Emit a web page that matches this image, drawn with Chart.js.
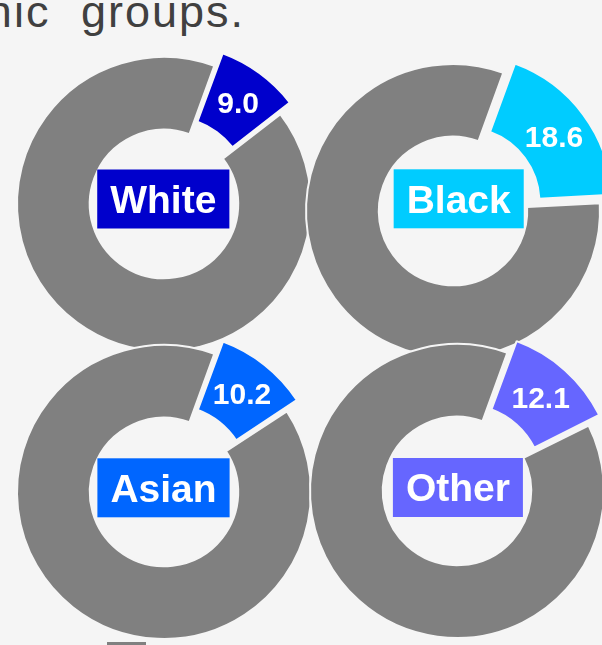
<!DOCTYPE html>
<html>
<head>
<meta charset="utf-8">
<script src="https://cdn.jsdelivr.net/npm/chart.js@4/dist/chart.umd.min.js"></script>
<style>
  html, body { margin: 0; padding: 0; background: #f5f5f5; width: 602px; height: 645px; overflow: hidden; }
  .wrap { position: relative; width: 602px; height: 645px; overflow: hidden; background: #f5f5f5; }
  .title { position: absolute; right: 357px; top: -11px; font-family: "Liberation Sans", Arial, sans-serif;
           font-size: 45px; line-height: 45px; color: #404040; white-space: nowrap; letter-spacing: 2px; word-spacing: 16px; }
  canvas.donut { position: absolute; }
  .marker { position: absolute; left: 107px; top: 642px; width: 39px; height: 10px; background: #808080; }
</style>
</head>
<body>
<div class="wrap" id="wrap">
  <div class="title" id="title"></div>
  <div class="marker"></div>
</div>
<script>
// ---- data ----
const groups = ['White', 'Black', 'Asian', 'Other'];
const rates = [9.0, 18.6, 10.2, 12.1];
const groupColors = ['#0000CC', '#00CCFF', '#0066FF', '#6666FF'];
const titleText = 'ethnic groups.';

// ---- layout / style constants ----
const CENTERS = [[164, 204], [453, 211], [164, 492], [457, 491]];
const BOX_SHIFT = [[-0.7, -5], [5.7, -12.2], [-0.5, -4.2], [0.9, -3.5]];
const CANVAS = 360;
const RADIUS = 147;
const DISP = 15;          // outward displacement of the highlighted slice
const GREY = '#808080';
const BG = '#f5f5f5';
const FONT = '"Liberation Sans", Arial, sans-serif';

document.getElementById('title').textContent = titleText;

const labelPlugin = {
  id: 'donutLabels',
  afterDatasetsDraw(chart, args, opts) {
    const ctx = chart.ctx;
    const arc = chart.getDatasetMeta(0).data[0];
    const p = arc.getProps(['x', 'y', 'startAngle', 'endAngle', 'innerRadius', 'outerRadius'], true);
    const mid = (p.startAngle + p.endAngle) / 2;
    const r = (p.innerRadius + p.outerRadius) / 2 + DISP;
    ctx.save();
    // value label in the slice
    ctx.font = 'bold 30px ' + FONT;
    ctx.fillStyle = '#ffffff';
    ctx.textAlign = 'center';
    ctx.textBaseline = 'alphabetic';
    ctx.fillText(opts.value.toFixed(1), p.x + Math.cos(mid) * r, p.y + Math.sin(mid) * r + 0.716 * 30 / 2);
    // category box in the hole
    ctx.font = 'bold 39px ' + FONT;
    const tw = ctx.measureText(opts.name).width;
    const bw = tw + 26, bh = 59;
    const bx = p.x + opts.shift[0], by = p.y + opts.shift[1];
    ctx.fillStyle = opts.color;
    ctx.fillRect(bx - bw / 2, by - bh / 2, bw, bh);
    ctx.fillStyle = '#ffffff';
    ctx.fillText(opts.name, bx, by + 0.716 * 39 / 2);
    ctx.restore();
  }
};

const wrap = document.getElementById('wrap');
groups.forEach((name, i) => {
  const cv = document.createElement('canvas');
  cv.className = 'donut';
  cv.width = CANVAS; cv.height = CANVAS;
  cv.style.width = CANVAS + 'px'; cv.style.height = CANVAS + 'px';
  cv.style.left = (CENTERS[i][0] - CANVAS / 2) + 'px';
  cv.style.top = (CENTERS[i][1] - CANVAS / 2) + 'px';
  wrap.insertBefore(cv, wrap.querySelector('.marker'));
  const circ = rates[i] / 100 * 2 * Math.PI;
  const off = 4 * DISP / (2 - Math.sin(Math.min(Math.PI, circ)));
  new Chart(cv, {
    type: 'doughnut',
    data: {
      labels: [name, 'Rest'],
      datasets: [{
        data: [rates[i], 100 - rates[i]],
        backgroundColor: [groupColors[i], GREY],
        borderColor: BG,
        borderWidth: 2,
        offset: [off, 0]
      }]
    },
    options: {
      responsive: false,
      animation: false,
      events: [],
      rotation: 20,
      radius: RADIUS,
      cutout: '50.5%',
      layout: { padding: 0 },
      plugins: {
        legend: { display: false },
        tooltip: { enabled: false },
        title: { display: false },
        donutLabels: { value: rates[i], name: name, color: groupColors[i], shift: BOX_SHIFT[i] }
      }
    },
    plugins: [labelPlugin]
  });
});
</script>
</body>
</html>
